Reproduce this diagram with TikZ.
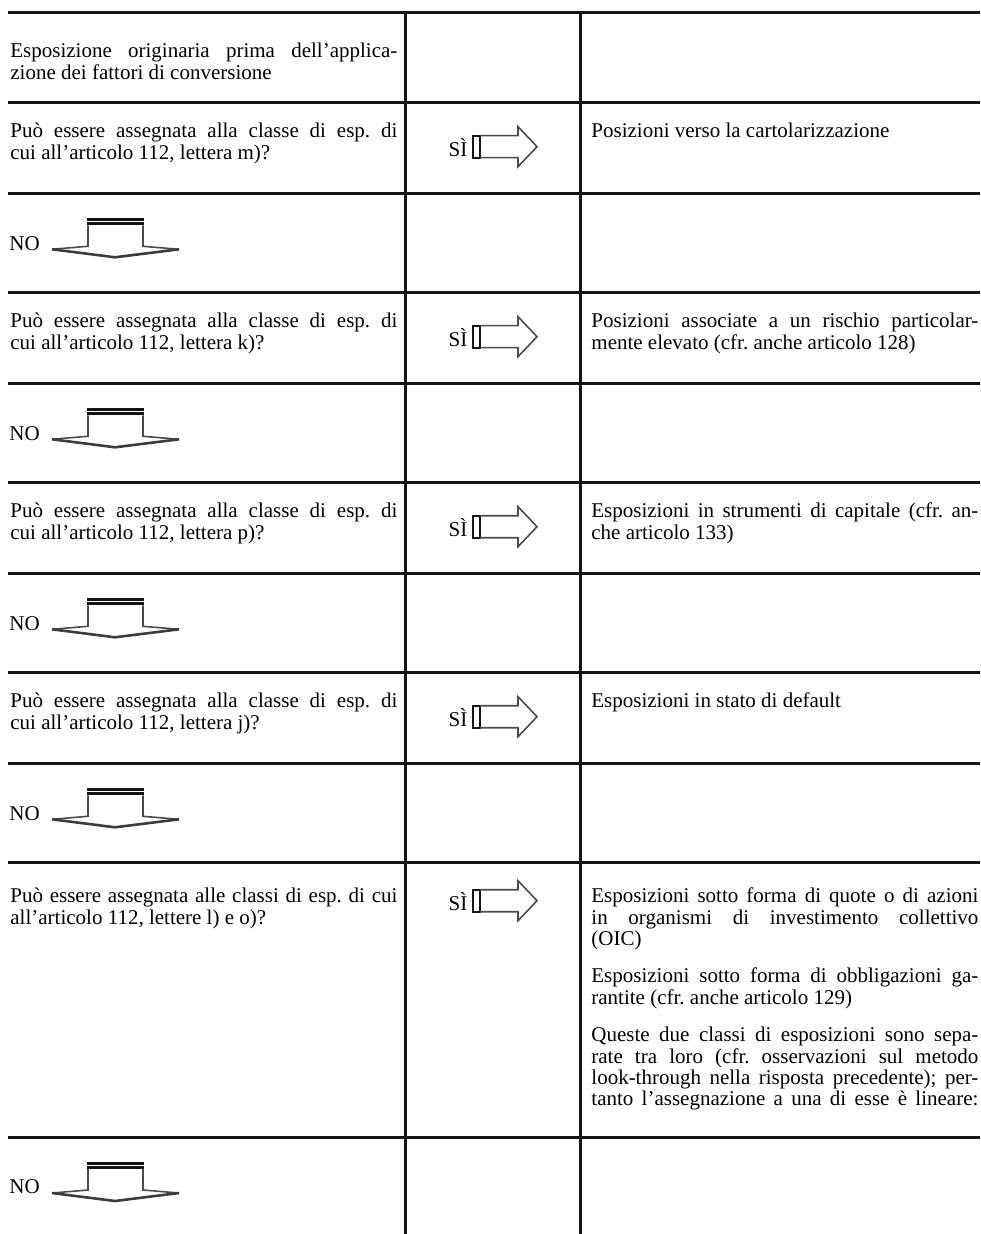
\documentclass[tikz,border=0pt]{standalone}
\usepackage{fontspec}
\setmainfont{Liberation Serif}
\usepackage{tikz}
\frenchspacing
\definecolor{figK}{RGB}{20,20,20}
\definecolor{figA}{RGB}{75,75,75}
\newcommand{\cellfont}{\fontsize{10.5}{10.7}\selectfont\tolerance=10000\hbadness=10000 }
\tikzset{
  tabline/.style={line width=1.5pt, figK},
  celltext/.style={anchor=base west, inner sep=0pt, text width=193.5pt, align=justify, font=\cellfont},
  lbl/.style={inner sep=0pt, font=\fontsize{10.5}{10.7}\selectfont},
  siarrow/.pic={
    \draw[line width=1.1pt, figK] (1,-11) rectangle (8,11);
    \draw[line width=0.8pt, figA] (8,-11) -- (46,-11) -- (46,-20) -- (65,0) -- (46,20) -- (46,11) -- (8,11);
  },
  noarrow/.pic={
    \fill[figK] (0,0) rectangle (57,7);
    \draw[white, line width=0.4pt] (0,3.5) -- (57,3.5);
    \draw[line width=0.8pt, figA] (1,7) -- (1,28) -- (-35,31);
    \draw[line width=0.8pt, figA] (56,7) -- (56,28) -- (92,31);
    \draw[line width=1.3pt, figA!80!black] (-35,31) -- (28,39) -- (92,31);
  },
}

\begin{document}
\begin{tikzpicture}[x=0.5pt, y=-0.5pt]
\useasboundingbox (0,0) rectangle (980,1234);
% ====== table rules ======
\foreach \yy in {12.7,102.7,193.3,292.7,383.3,482.7,573.3,672.7,763.3,862.7,1137}
  \draw[tabline] (8,\yy) -- (980,\yy);
\draw[tabline] (405,12.7) -- (405,1234);
\draw[tabline] (580,12.7) -- (580,1234);
% ====== starting exposure ======
\node[celltext] (start) at (10,57.7) {Esposizione originaria prima dell’applica-\linebreak zione dei fattori di conversione};
% ====== lettera m) ======
\begin{scope}[shift={(0,102.7)}]
\node[celltext] (q1) at (10,35) {Può essere assegnata alla classe di esp. di\linebreak cui all’articolo 112, lettera m)?};
\node[lbl] (si1) at (458,45) {SÌ};
\pic at (472,44) {siarrow};
\node[celltext] (r1) at (591,35) {Posizioni verso la cartolarizzazione};
\end{scope}
\begin{scope}[shift={(0,193.3)}]
\node[lbl, anchor=west] (no1) at (9,50) {NO};
\pic at (87,25) {noarrow};
\end{scope}
% ====== lettera k) ======
\begin{scope}[shift={(0,292.7)}]
\node[celltext] (q2) at (10,35) {Può essere assegnata alla classe di esp. di\linebreak cui all’articolo 112, lettera k)?};
\node[lbl] (si2) at (458,45) {SÌ};
\pic at (472,44) {siarrow};
\node[celltext] (r2) at (591,35) {Posizioni associate a un rischio particolar-\linebreak mente elevato (cfr. anche articolo 128)};
\end{scope}
\begin{scope}[shift={(0,383.3)}]
\node[lbl, anchor=west] (no2) at (9,50) {NO};
\pic at (87,25) {noarrow};
\end{scope}
% ====== lettera p) ======
\begin{scope}[shift={(0,482.7)}]
\node[celltext] (q3) at (10,35) {Può essere assegnata alla classe di esp. di\linebreak cui all’articolo 112, lettera p)?};
\node[lbl] (si3) at (458,45) {SÌ};
\pic at (472,44) {siarrow};
\node[celltext] (r3) at (591,35) {Esposizioni in strumenti di capitale (cfr. an-\linebreak che articolo 133)};
\end{scope}
\begin{scope}[shift={(0,573.3)}]
\node[lbl, anchor=west] (no3) at (9,50) {NO};
\pic at (87,25) {noarrow};
\end{scope}
% ====== lettera j) ======
\begin{scope}[shift={(0,672.7)}]
\node[celltext] (q4) at (10,35) {Può essere assegnata alla classe di esp. di\linebreak cui all’articolo 112, lettera j)?};
\node[lbl] (si4) at (458,45) {SÌ};
\pic at (472,44) {siarrow};
\node[celltext] (r4) at (591,35) {Esposizioni in stato di default};
\end{scope}
\begin{scope}[shift={(0,763.3)}]
\node[lbl, anchor=west] (no4) at (9,50) {NO};
\pic at (87,25) {noarrow};
\end{scope}
% ====== lettere l) e o) ======
\begin{scope}[shift={(0,862.7)}]
\node[celltext] (q5) at (10,40) {Può essere assegnata alle classi di esp. di cui\linebreak all’articolo 112, lettere l) e o)?};
\node[lbl] (si5) at (458,39) {SÌ};
\pic at (472,38) {siarrow};
\node[celltext] (r5) at (591,40) {Esposizioni sotto forma di quote o di azioni\linebreak in organismi di investimento collettivo\linebreak (OIC)\par\vspace{8pt}
Esposizioni sotto forma di obbligazioni ga-\linebreak rantite (cfr. anche articolo 129)\par\vspace{8pt}
Queste due classi di esposizioni sono sepa-\linebreak rate tra loro (cfr. osservazioni sul metodo\linebreak look-through nella risposta precedente); per-\linebreak
\hbox to \hsize{tanto\hfil l’assegnazione\hfil a\hfil una\hfil di\hfil esse\hfil è\hfil lineare:}};
\end{scope}
\begin{scope}[shift={(0,1137)}]
\node[lbl, anchor=west] (no5) at (9,50) {NO};
\pic at (87,25) {noarrow};
\end{scope}
\end{tikzpicture}
\end{document}
